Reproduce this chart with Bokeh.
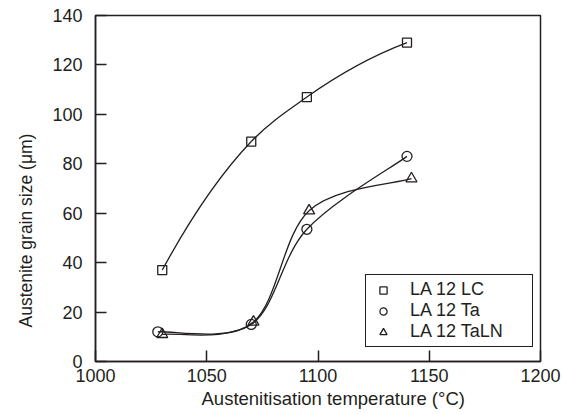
import numpy as np
from bokeh.plotting import figure
from bokeh.models import Legend, LegendItem, Title, Range1d, FixedTicker
from bokeh.embed import file_html
from bokeh.resources import INLINE

# ---- data ----
temp_lc = [1030, 1070, 1095, 1140]
size_lc = [37, 89, 107, 129]
temp_ta = [1028, 1070, 1095, 1140]
size_ta = [12, 15, 53.5, 83]
temp_taln = [1030, 1071, 1096, 1142]
size_taln = [11, 16, 61, 74]
series_names = ["LA 12 LC", "LA 12 Ta", "LA 12 TaLN"]
x_ticks = [1000, 1050, 1100, 1150, 1200]
y_ticks = [0, 20, 40, 60, 80, 100, 120, 140]
x_title = "Austenitisation temperature (°C)"
y_title = "Austenite grain size (μm)"

INK = "#231f20"
FONT = "Liberation Sans"


def catmull_segments(xs, ys):
    """Catmull-Rom style smoothed bezier segments through the points."""
    x = np.asarray(xs, float)
    y = np.asarray(ys, float)
    n = len(x)
    xp = np.concatenate([[x[0]], x, [x[-1]]])
    yp = np.concatenate([[y[0]], y, [y[-1]]])
    cx0 = x[:-1] + (xp[2:n + 1] - xp[0:n - 1]) / 6.0
    cy0 = y[:-1] + (yp[2:n + 1] - yp[0:n - 1]) / 6.0
    cx1 = x[1:] - (xp[3:n + 2] - xp[1:n]) / 6.0
    cy1 = y[1:] - (yp[3:n + 2] - yp[1:n]) / 6.0
    return dict(x0=x[:-1], y0=y[:-1], x1=x[1:], y1=y[1:],
                cx0=cx0, cy0=cy0, cx1=cx1, cy1=cy1)


def parabolic_segments(xs, ys):
    """Hermite curve in x with three-point (parabolic) slopes, as bezier segments."""
    x = np.asarray(xs, float)
    y = np.asarray(ys, float)
    h = np.diff(x)
    s = np.diff(y) / h
    m = np.empty_like(x)
    m[1:-1] = (h[1:] * s[:-1] + h[:-1] * s[1:]) / (h[:-1] + h[1:])
    m[0] = s[0] + (s[0] - s[1]) * h[0] / (h[0] + h[1])
    m[-1] = s[-1] + (s[-1] - s[-2]) * h[-1] / (h[-1] + h[-2])
    return dict(x0=x[:-1], y0=y[:-1], x1=x[1:], y1=y[1:],
                cx0=x[:-1] + h / 3, cy0=y[:-1] + m[:-1] * h / 3,
                cx1=x[1:] - h / 3, cy1=y[1:] - m[1:] * h / 3)


p = figure(width=562, height=414, output_backend="svg", toolbar_location=None,
           x_range=Range1d(x_ticks[0], x_ticks[-1]), y_range=Range1d(y_ticks[0], y_ticks[-1]),
           title=None, min_border_left=91, min_border_right=22, min_border_top=15,
           min_border_bottom=53)

p.grid.visible = False
p.outline_line_color = INK
p.outline_line_width = 1.5
p.outline_line_alpha = 1
p.background_fill_color = "white"
p.border_fill_color = "white"

for ax in (p.xaxis[0], p.yaxis[0]):
    ax.major_tick_in = 11
    ax.major_tick_out = 0
    ax.minor_tick_in = 0
    ax.minor_tick_out = 0
    ax.axis_line_color = INK
    ax.axis_line_width = 1.5
    ax.major_tick_line_color = INK
    ax.major_tick_line_width = 1.5
    ax.major_label_text_font = FONT
    ax.major_label_text_font_size = "18px"
    ax.major_label_text_color = INK

p.xaxis.ticker = FixedTicker(ticks=x_ticks)
p.yaxis.ticker = FixedTicker(ticks=y_ticks)
p.xaxis.major_label_standoff = 7
p.yaxis.major_label_standoff = 13

# axis titles as side-panel titles, offset along the frame like the reference
p.add_layout(Title(text=x_title, align="left", offset=106, standoff=3,
                   text_font=FONT, text_font_size="18.5px", text_font_style="normal",
                   text_color=INK), "below")
p.add_layout(Title(text=y_title, align="left", offset=34, standoff=27,
                   text_font=FONT, text_font_size="17.5px", text_font_style="normal",
                   text_color=INK), "left")

curve_makers = [parabolic_segments, catmull_segments, catmull_segments]
series = [(temp_lc, size_lc, "square", 9, 7),
          (temp_ta, size_ta, "circle", 10, 7),
          (temp_taln, size_taln, "triangle", 11, 8)]
legend_items = []
for (xs, ys, marker, msize, lsize), maker, name in zip(series, curve_makers, series_names):
    p.bezier(line_color=INK, line_width=1.3, **maker(xs, ys))
    p.scatter(xs, ys, marker=marker, size=msize, fill_color=None,
              line_color=INK, line_width=1.3)
    # legend swatch: same marker, smaller, with no on-plot point
    key = p.scatter([np.nan], [np.nan], marker=marker, size=lsize, fill_color=None,
                    line_color=INK, line_width=1.3)
    legend_items.append(LegendItem(label=name, renderers=[key]))

legend = Legend(items=legend_items,
                location=(270, 14), label_text_font=FONT, label_text_font_size="18px",
                label_text_color=INK, glyph_width=26, glyph_height=18, label_height=18,
                label_width=118, label_standoff=14, padding=4, spacing=-5, margin=0,
                border_line_color=INK, border_line_width=1.5, border_line_alpha=1,
                background_fill_color="white", background_fill_alpha=1)
p.add_layout(legend)

open("out.html", "w").write(file_html(p, INLINE))
